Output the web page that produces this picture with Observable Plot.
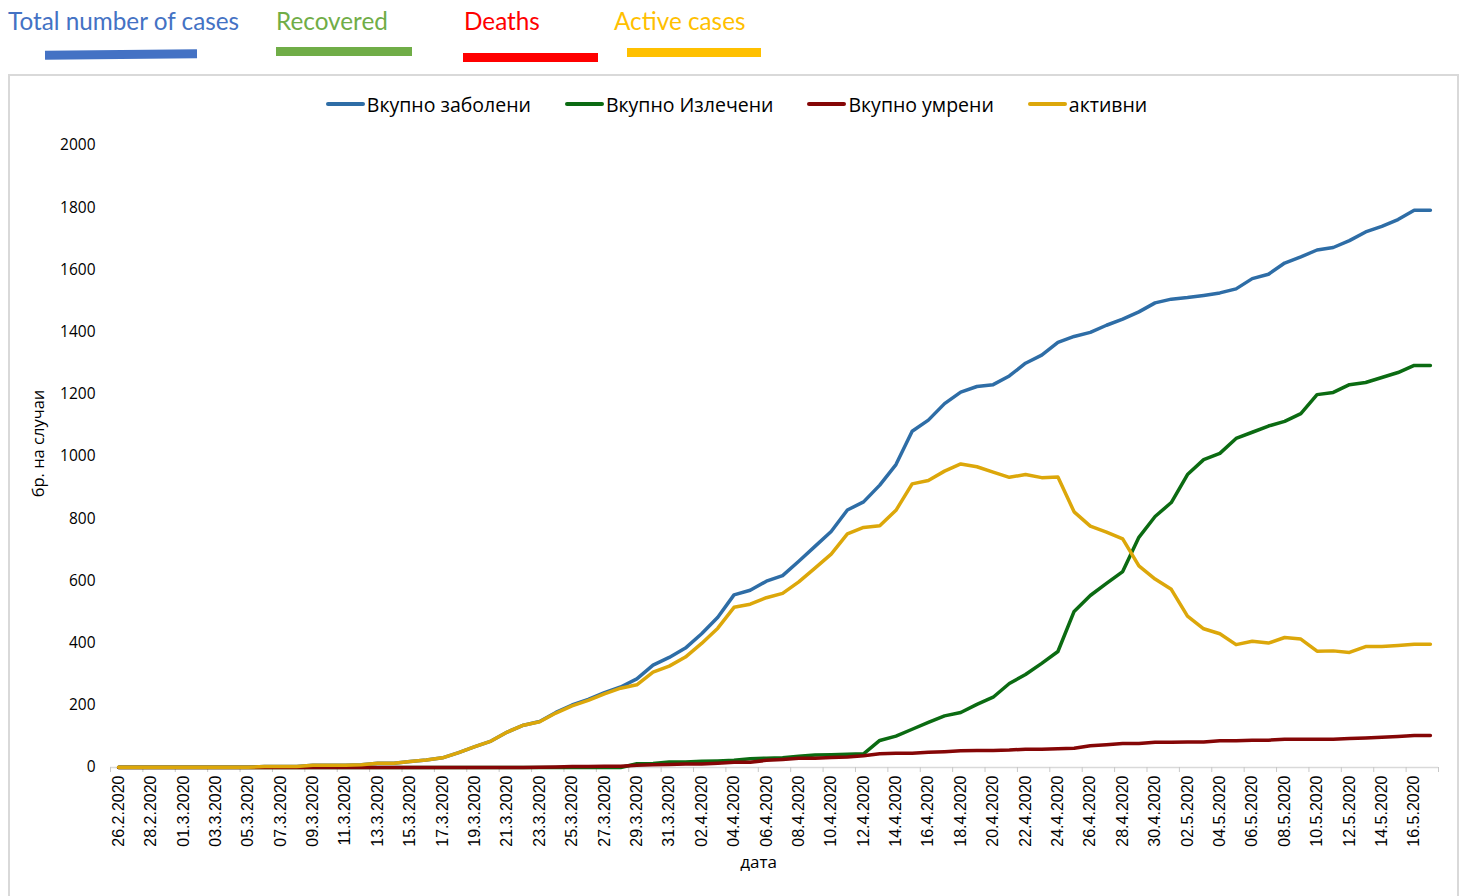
<!DOCTYPE html>
<html>
<head>
<meta charset="utf-8">
<script src="https://cdn.jsdelivr.net/npm/d3@7"></script>
<script src="https://cdn.jsdelivr.net/npm/@observablehq/plot@0.6"></script>
<style>
  html, body { margin: 0; padding: 0; background: #fff; overflow: hidden; }
  body { width: 1465px; height: 896px; position: relative; font-family: "Open Sans", sans-serif; }
  .en { position: absolute; font-family: Lato, sans-serif; font-size: 24.3px; line-height: 1; white-space: nowrap; }
  .bar { position: absolute; height: 9px; }
  #box { position: absolute; left: 8px; top: 74px; width: 1447px; height: 900px; border: 2px solid #d9d9d9; border-bottom: none; }
  #legend { position: absolute; left: 0; top: 0; width: 100%; height: 56px; display: flex; justify-content: center; align-items: center; padding-left: 40px; box-sizing: border-box; }
  .item { display: flex; align-items: center; margin-right: 34px; font-size: 19.5px; color: #000; white-space: nowrap; }
  .sw { width: 39px; height: 4px; border-radius: 2px; margin-right: 2px; }
  #chart { position: absolute; left: 0; top: 54px; }
</style>
</head>
<body>
<div class="en" style="left:8px; top:9px; color:#4472C4">Total number of cases</div>
<div class="bar" style="left:45px; top:50px; width:152px; background:#4472C4; transform:rotate(-0.5deg)"></div>
<div class="en" style="left:276px; top:9px; color:#70AD47">Recovered</div>
<div class="bar" style="left:276px; top:47px; width:136px; background:#70AD47"></div>
<div class="en" style="left:464px; top:9px; color:#FF0000">Deaths</div>
<div class="bar" style="left:463px; top:53px; width:135px; background:#FF0000"></div>
<div class="en" style="left:614px; top:9px; color:#FFC000">Active cases</div>
<div class="bar" style="left:627px; top:48px; width:134px; background:#FFC000"></div>

<div id="box">
  <div id="legend"></div>
  <div id="chart"></div>
</div>

<script>
// Category labels: one per day, 26.2.2020 .. 17.5.2020
const dates = [
  "26.2.2020","27.2.2020","28.2.2020","29.2.2020",
  "01.3.2020","02.3.2020","03.3.2020","04.3.2020","05.3.2020","06.3.2020","07.3.2020","08.3.2020","09.3.2020","10.3.2020",
  "11.3.2020","12.3.2020","13.3.2020","14.3.2020","15.3.2020","16.3.2020","17.3.2020","18.3.2020","19.3.2020","20.3.2020",
  "21.3.2020","22.3.2020","23.3.2020","24.3.2020","25.3.2020","26.3.2020","27.3.2020","28.3.2020","29.3.2020","30.3.2020","31.3.2020",
  "01.4.2020","02.4.2020","03.4.2020","04.4.2020","05.4.2020","06.4.2020","07.4.2020","08.4.2020","09.4.2020","10.4.2020",
  "11.4.2020","12.4.2020","13.4.2020","14.4.2020","15.4.2020","16.4.2020","17.4.2020","18.4.2020","19.4.2020","20.4.2020",
  "21.4.2020","22.4.2020","23.4.2020","24.4.2020","25.4.2020","26.4.2020","27.4.2020","28.4.2020","29.4.2020","30.4.2020",
  "01.5.2020","02.5.2020","03.5.2020","04.5.2020","05.5.2020","06.5.2020","07.5.2020","08.5.2020","09.5.2020","10.5.2020",
  "11.5.2020","12.5.2020","13.5.2020","14.5.2020","15.5.2020","16.5.2020","17.5.2020"
];

// Вкупно заболени (total cases)
const total = [
  1,1,1,1,
  1,1,1,1,1,3,3,3,7,7,
  7,9,14,14,19,24,31,48,67,85,
  114,136,148,177,201,219,241,259,285,329,354,
  384,430,483,555,570,599,617,663,711,759,
  828,854,908,974,1081,1117,1170,1207,1225,1231,
  1259,1300,1326,1367,1386,1399,1422,1442,1465,1494,
  1506,1511,1518,1526,1539,1572,1586,1622,1642,1664,
  1672,1694,1722,1740,1762,1792,1792
];

// Вкупно Излечени (recovered)
const recovered = [
  0,0,0,0,
  0,0,0,0,0,0,0,0,0,0,
  0,0,0,0,0,0,0,0,0,0,
  0,0,0,0,0,0,0,0,12,13,18,
  18,20,21,23,28,30,31,36,40,41,
  43,44,87,101,123,145,166,177,203,226,
  270,299,335,373,502,553,592,630,740,807,
  852,942,990,1010,1058,1078,1098,1113,1138,1199,
  1206,1231,1238,1254,1270,1293,1293
];

// Вкупно умрени (deaths)
const deaths = [
  0,0,0,0,
  0,0,0,0,0,0,0,0,0,0,
  0,0,0,0,0,0,0,0,0,0,
  0,0,1,2,3,3,4,4,7,9,10,
  11,11,14,17,17,23,26,30,30,32,
  34,38,44,46,46,49,51,54,55,55,
  56,59,59,60,62,70,73,77,77,81,
  81,82,82,86,86,88,88,91,91,91,
  91,93,95,97,100,103,103
];

// активни (active cases)
const active = [
  1,1,1,1,
  1,1,1,1,1,3,3,3,7,7,
  7,9,14,14,19,24,31,48,67,85,
  114,136,147,175,198,216,237,255,266,307,326,
  355,399,448,515,525,546,560,597,641,686,
  751,772,777,827,912,923,953,976,967,950,
  933,942,932,934,822,776,757,735,648,606,
  573,487,446,430,395,406,400,418,413,374,
  375,370,389,389,392,396,396
];

const yTicks = [0, 200, 400, 600, 800, 1000, 1200, 1400, 1600, 1800, 2000];

const series = [
  {name: "Вкупно заболени", values: total, color: "#2E6DA6"},
  {name: "Вкупно Излечени", values: recovered, color: "#0B6B12"},
  {name: "Вкупно умрени", values: deaths, color: "#850606"},
  {name: "активни", values: active, color: "#DCA70A"}
];

// legend
const legend = document.getElementById("legend");
for (const s of series) {
  const it = document.createElement("div");
  it.className = "item";
  it.innerHTML = `<span class="sw" style="background:${s.color}"></span><span>${s.name}</span>`;
  legend.appendChild(it);
}

const idx = dates.map((d, i) => i);
const labelIdx = idx.filter(i => i % 2 === 0);
const boundaryTicks = idx.filter(i => i % 2 === 0).map(i => i - 0.5).concat([dates.length - 0.5]);

const plot = Plot.plot({
  width: 1447,
  height: 745,
  marginLeft: 100,
  marginRight: 19,
  marginTop: 15,
  marginBottom: 108,
  style: {fontFamily: "Open Sans, sans-serif", background: "transparent", overflow: "visible"},
  x: {type: "linear", domain: [-0.5, dates.length - 0.5]},
  y: {domain: [0, 2000]},
  marks: [
    Plot.ruleY([0], {stroke: "#d9d9d9", strokeWidth: 1.5}),
    Plot.axisX({ticks: boundaryTicks, tickSize: 5, stroke: "#c8c8c8", tickFormat: () => "", label: null}),
    Plot.axisX({ticks: labelIdx, tickSize: 0, tickPadding: 8, tickRotate: -90, tickFormat: i => dates[i],
      fontSize: 16, fontFamily: "Liberation Sans, Arial, sans-serif", fill: "#000", label: null}),
    Plot.axisY({ticks: yTicks, tickSize: 0, tickPadding: 15, fontSize: 15.5, fill: "#000", label: null, tickFormat: d => String(d)}),
    Plot.text(["бр. на случаи"], {frameAnchor: "left", textAnchor: "middle", dx: -72, dy: -13, rotate: -90, fontSize: 16.5, fill: "#000"}),
    Plot.text(["дата"], {frameAnchor: "bottom", dx: -16, dy: 100, fontSize: 17, fill: "#000"}),
    ...series.map(s => Plot.line(s.values, {x: (d, i) => i, y: d => d, stroke: s.color, strokeWidth: 3.5, strokeLinejoin: "round", strokeLinecap: "round"}))
  ]
});
document.getElementById("chart").appendChild(plot);
</script>
</body>
</html>
